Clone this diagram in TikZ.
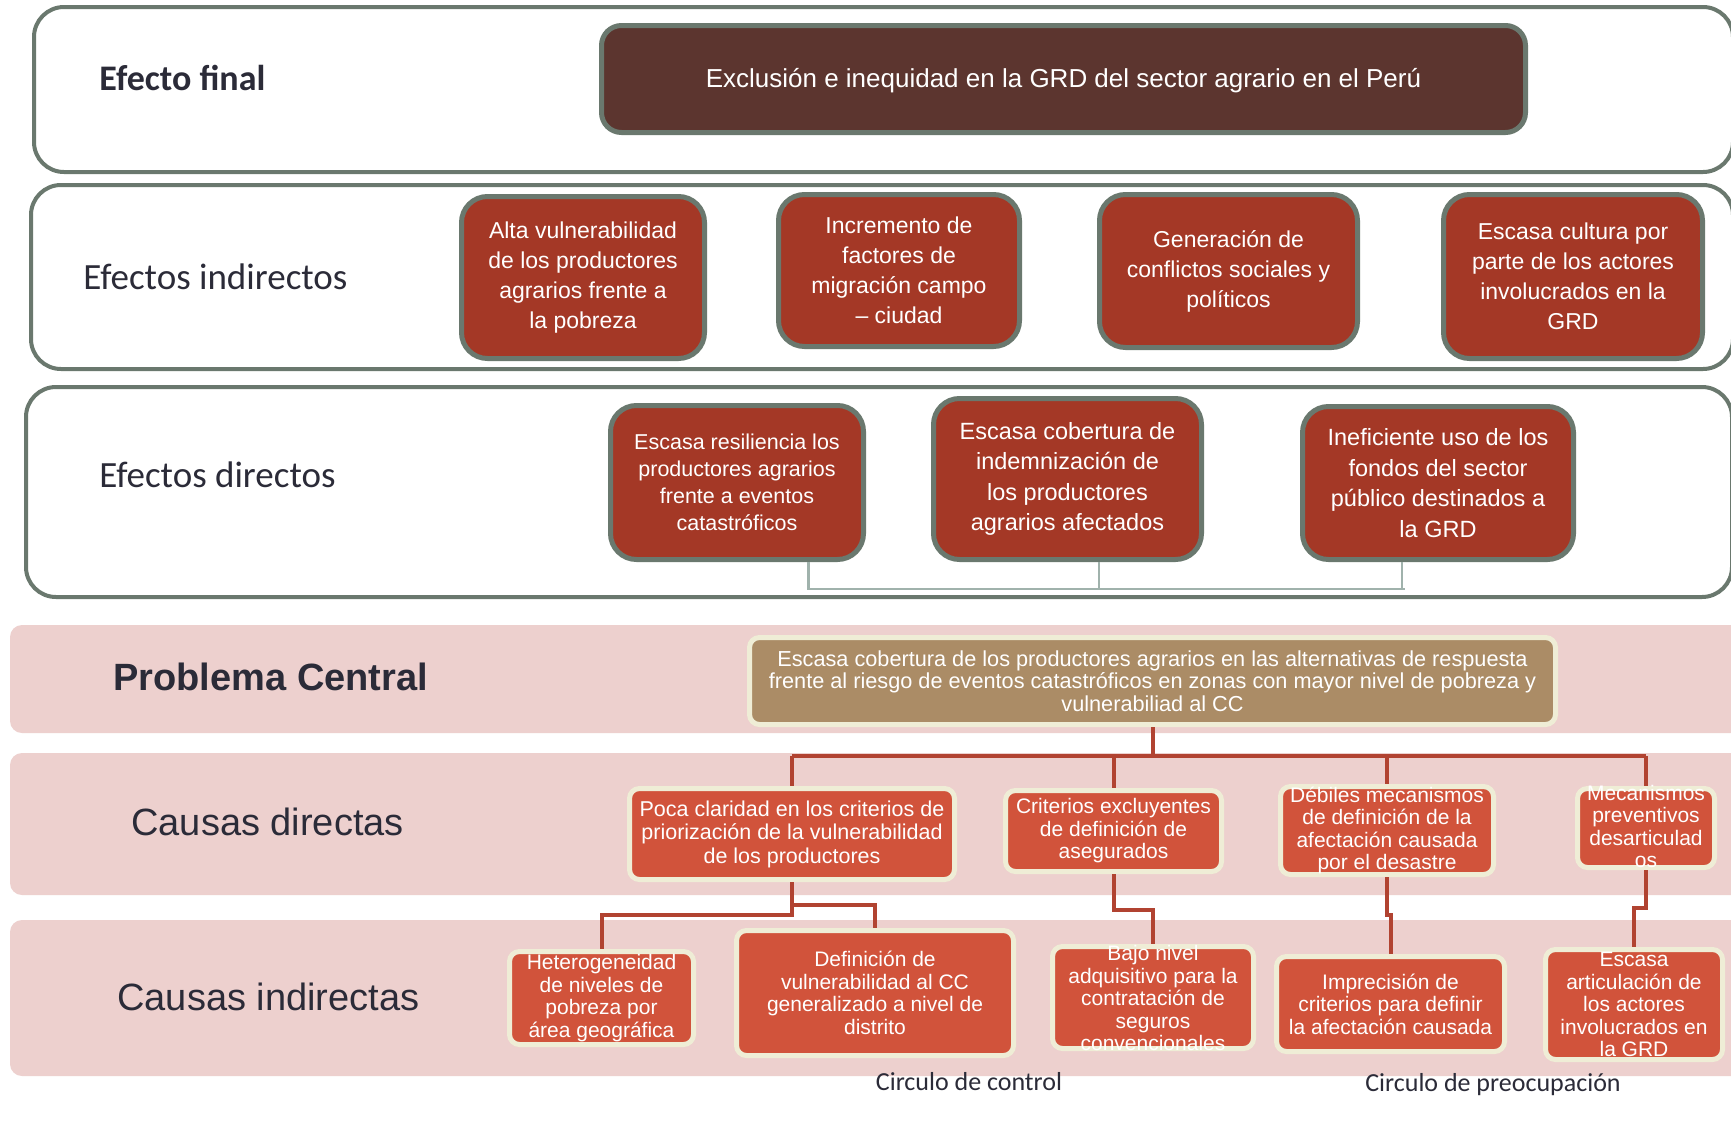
\documentclass[tikz,border=0pt]{standalone}
\usepackage{fontspec}
\setmainfont{Liberation Sans}
\newfontfamily\calfont{Carlito}
\definecolor{gborder}{HTML}{6A786E}
\definecolor{finalc}{HTML}{5C352F}
\definecolor{effc}{HTML}{A43826}
\definecolor{causec}{HTML}{D1533B}
\definecolor{creamc}{HTML}{EFEDD6}
\definecolor{tanc}{HTML}{AB8C66}
\definecolor{grayc}{HTML}{A0B2AC}
\definecolor{redc}{HTML}{B14331}
\definecolor{pinkc}{HTML}{EDD0CE}
\definecolor{labc}{HTML}{2B2B38}
\begin{document}
\begin{tikzpicture}[x=0.5pt,y=-0.5pt,
 panel/.style={draw=gborder, line width=2pt, rounded corners=15pt, fill=white},
 band/.style={fill=pinkc, rounded corners=6pt},
 finalbox/.style={draw=gborder, line width=2.5pt, fill=finalc, rounded corners=10pt, text=white, align=center, inner sep=0pt},
 effbox/.style={draw=gborder, line width=2.5pt, fill=effc, rounded corners=13pt, text=white, align=center, inner sep=0pt},
 causebox/.style={draw=creamc, line width=2.5pt, fill=causec, rounded corners=5pt, text=white, align=center, inner sep=0pt},
 probbox/.style={draw=creamc, line width=2.5pt, fill=tanc, rounded corners=5pt, text=white, align=center, inner sep=0pt},
 boxtext/.style={text=white, align=center, inner sep=0pt},
 rowlabel/.style={text=labc, anchor=west, inner sep=0pt},
 redline/.style={draw=redc, line width=2pt},
 grayline/.style={draw=grayc, line width=1.25pt},
 eitext/.style={font=\fontsize{11.5pt}{15pt}\selectfont},
 detext/.style={font=\fontsize{11.75pt}{15.25pt}\selectfont},
 ctext/.style={font=\fontsize{10.5pt}{11.25pt}\selectfont},
]
\useasboundingbox (0,0) rectangle (1731,1136);
\clip (0,0) rectangle (1731,1136);
\fill[white] (0,0) rectangle (1731,1136);

% panels
\draw[panel] (34,7) rectangle (1733,172);
\draw[panel] (31,185) rectangle (1733,369);
\draw[panel] (26,387) rectangle (1732,597);

% pink bands
\fill[band] (10,625) rectangle (1760,733);
\fill[band] (10,753) rectangle (1760,895);
\fill[band] (10,920) rectangle (1760,1076);

% row labels
\node[rowlabel, font=\calfont\bfseries\fontsize{18pt}{21pt}\selectfont] (lfinal) at (99,78) {Efecto final};
\node[rowlabel, font=\calfont\fontsize{18.5pt}{22pt}\selectfont] (lind) at (83,277) {Efectos indirectos};
\node[rowlabel, font=\calfont\fontsize{18.5pt}{22pt}\selectfont] (ldir) at (99,475) {Efectos directos};
\node[rowlabel, font=\bfseries\fontsize{19pt}{22pt}\selectfont] (lprob) at (113,677) {Problema Central};
\node[rowlabel, font=\fontsize{19pt}{22pt}\selectfont] (lcd) at (131,822) {Causas directas};
\node[rowlabel, font=\fontsize{19pt}{22pt}\selectfont] (lci) at (117,997) {Causas indirectas};

% final effect
\node[finalbox, minimum width=462pt, minimum height=53.5pt] (fin) at (1063.5,79) {};
\node[boxtext, font=\fontsize{13pt}{15pt}\selectfont] (fint) at (1063.5,81)
 {Exclusión e inequidad en la GRD del sector agrario en el Perú};

% indirect effects
\node[effbox, eitext, minimum width=121.5pt, minimum height=81pt] (ei1) at (583,277.5)
 {Alta vulnerabilidad\\de los productores\\agrarios frente a\\la pobreza};
\node[effbox, eitext, minimum width=120.5pt, minimum height=76pt] (ei2) at (899,270.5)
 {Incremento de\\factores de\\migración campo\\– ciudad};
\node[effbox, eitext, minimum width=129pt, minimum height=76.5pt] (ei3) at (1228.5,271)
 {Generación de\\conflictos sociales y\\políticos};
\node[effbox, eitext, minimum width=129.5pt, minimum height=82pt] (ei4) at (1573,276.5)
 {Escasa cultura por\\parte de los actores\\involucrados en la\\GRD};

% direct effects
\node[effbox, font=\fontsize{10.75pt}{13.5pt}\selectfont, minimum width=126.5pt, minimum height=77pt] (de1) at (737,482.5)
 {Escasa resiliencia los\\productores agrarios\\frente a eventos\\catastróficos};
\node[effbox, detext, minimum width=134pt, minimum height=80.5pt] (de2) at (1067.5,479)
 {Escasa cobertura de\\indemnización de\\los productores\\agrarios afectados};
\node[effbox, detext, minimum width=135.5pt, minimum height=76.5pt] (de3) at (1438,483)
 {Ineficiente uso de los\\fondos del sector\\público destinados a\\la GRD};

\coordinate (gbus) at (0,589);
\draw[grayline] ([xshift=35.75pt]de1.south) -- ([xshift=35.75pt]de1.south |- gbus) -- ([xshift=-16.5pt]de3.south |- gbus);
\draw[grayline] ([xshift=-18pt]de3.south) -- ([xshift=-18pt]de3.south |- gbus);
\draw[grayline] ([xshift=15.75pt]de2.south) -- ([xshift=15.75pt]de2.south |- gbus);

% central problem
\node[probbox, minimum width=403pt, minimum height=43.5pt, font=\fontsize{10.85pt}{11.25pt}\selectfont] (cp) at (1152.5,681)
 {Escasa cobertura de los productores agrarios en las alternativas de respuesta\\frente al riesgo de eventos catastróficos en zonas con mayor nivel de pobreza y\\vulnerabiliad al CC};

% direct causes
\node[causebox, font=\fontsize{10.75pt}{11.75pt}\selectfont, minimum width=162.5pt, minimum height=45.5pt] (cd1) at (792,834)
 {Poca claridad en los criterios de\\priorización de la vulnerabilidad\\de los productores};
\node[causebox, ctext, minimum width=108pt, minimum height=40.5pt] (cd2) at (1113.5,831)
 {Criterios excluyentes\\de definición de\\asegurados};
\node[causebox, ctext, minimum width=106.5pt, minimum height=44pt] (cd3) at (1387,830.5)
 {Débiles mecanismos\\de definición de la\\afectación causada\\por el desastre};
\node[causebox, minimum width=68.5pt, minimum height=39.5pt] (cd4) at (1646,828) {};
\node[boxtext, ctext] (cd4t) at (1646,826.5) {Mecanismos\\preventivos\\desarticulad\\os};

% indirect causes
\node[causebox, ctext, minimum width=92pt, minimum height=46.5pt] (ci1) at (601.5,998)
 {Heterogeneidad\\de niveles de\\pobreza por\\área geográfica};
\node[causebox, ctext, minimum width=138.5pt, minimum height=62.5pt] (ci2) at (875,993)
 {Definición de\\vulnerabilidad al CC\\generalizado a nivel de\\distrito};
\node[causebox, minimum width=100.5pt, minimum height=51pt] (ci3) at (1153,997.5) {};
\node[boxtext, ctext] (ci3t) at (1153,998) {Bajo nivel\\adquisitivo para la\\contratación de\\seguros\\convencionales};
\node[causebox, ctext, minimum width=114pt, minimum height=47.5pt] (ci4) at (1390.5,1004)
 {Imprecisión de\\criterios para definir\\la afectación causada};
\node[causebox, ctext, minimum width=88.5pt, minimum height=55pt] (ci5) at (1634,1004.5)
 {Escasa\\articulación de\\los actores\\involucrados en\\la GRD};

% red connectors
\coordinate (rbus) at (0,756);
\draw[redline] (cp.south) -- (cp.south |- rbus);
\draw[redline] (cd1.north |- rbus) -- (cd4.north |- rbus);
\draw[redline] (cd1.north |- rbus) -- (cd1.north);
\draw[redline] (cd2.north |- rbus) -- (cd2.north);
\draw[redline] (cd3.north |- rbus) -- (cd3.north);
\draw[redline] (cd4.north |- rbus) -- (cd4.north);

\draw[redline] (cd1.south) -- ++(0,33) -| (ci1.north);
\draw[redline] (cd1.south) -- ++(0,23) -| (ci2.north);
\draw[redline] (cd2.south) -- ++(0,36) -| (ci3.north);
\draw[redline] (cd3.south) -- ++(0,38) -| (ci4.north);
\draw[redline] (cd4.south) -- ++(0,38) -| (ci5.north);

% bottom labels
\node[text=labc, inner sep=0pt, font=\calfont\fontsize{13pt}{15pt}\selectfont] (circ1) at (969,1082) {Circulo de control};
\node[text=labc, inner sep=0pt, font=\calfont\fontsize{13pt}{15pt}\selectfont] (circ2) at (1493,1085) {Circulo de preocupación};
\end{tikzpicture}
\end{document}
